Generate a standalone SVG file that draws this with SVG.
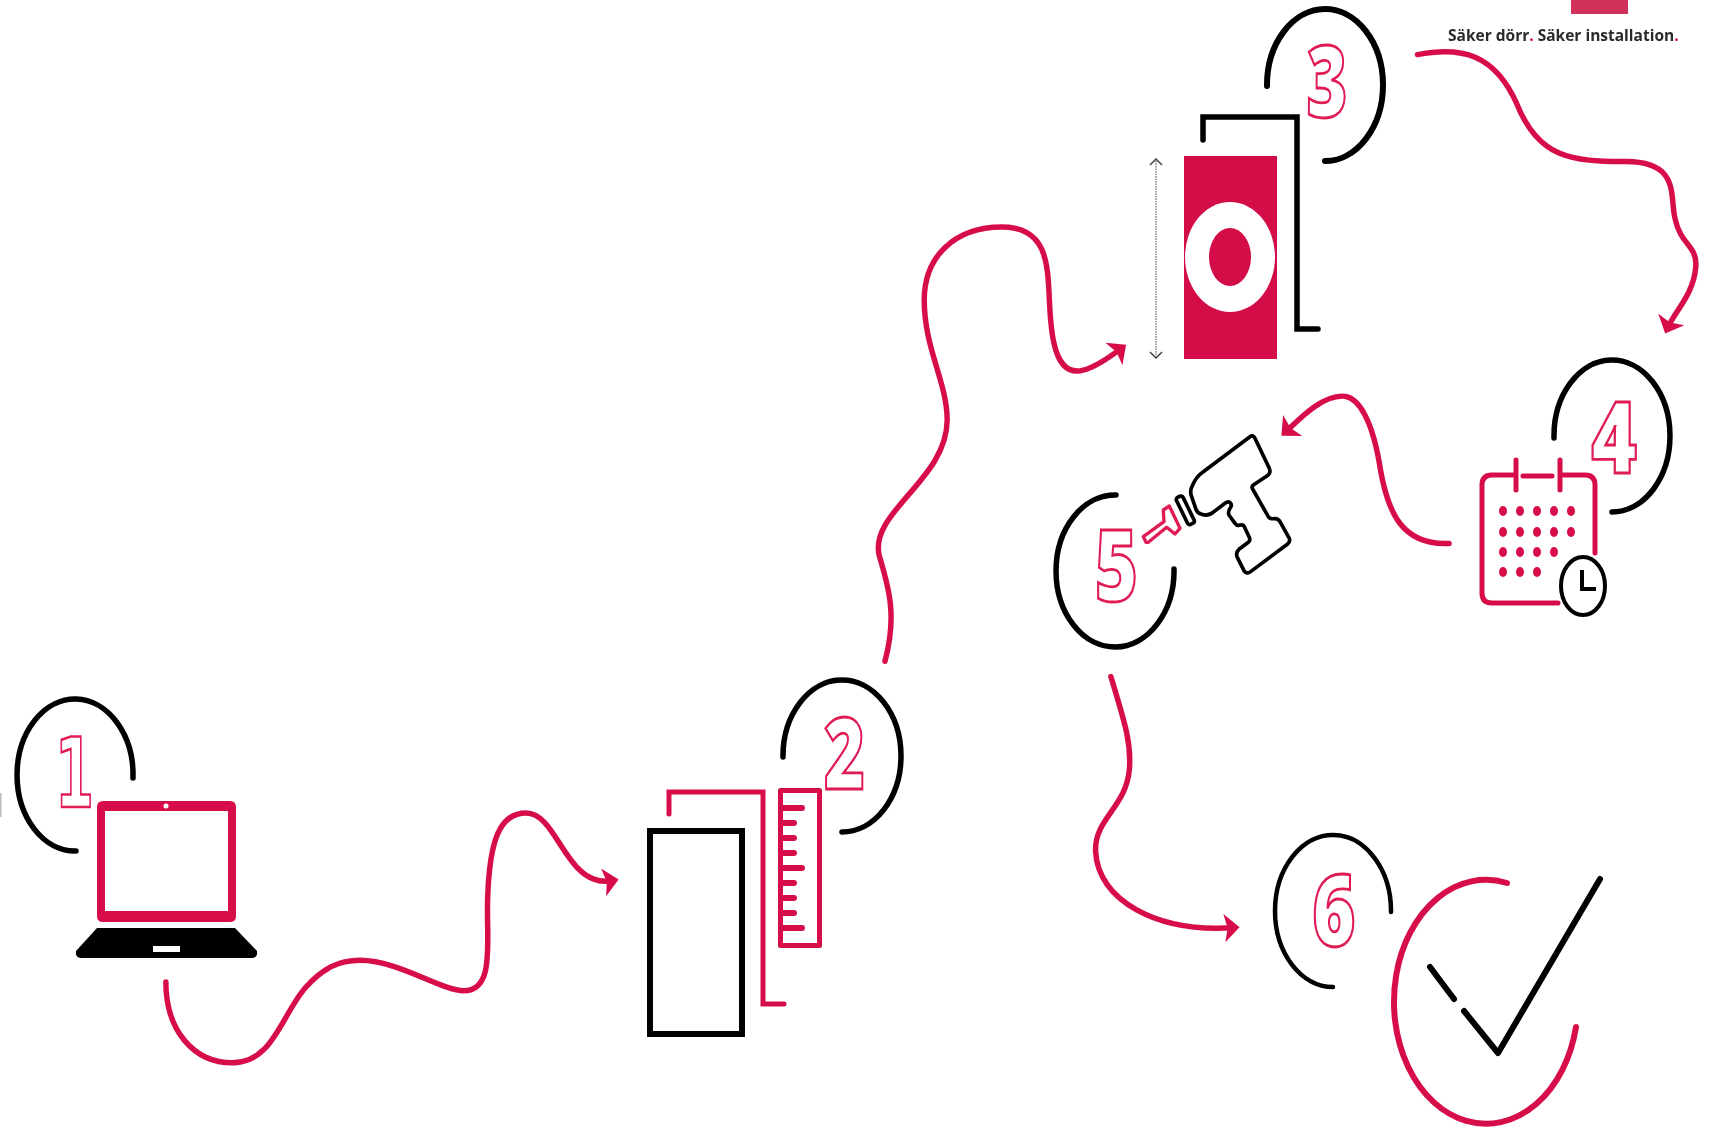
<svg xmlns="http://www.w3.org/2000/svg" width="1711" height="1130" viewBox="0 0 1711 1130">
<style>
.k{fill:none;stroke:#000;stroke-width:5.500;stroke-linecap:round}
.c{fill:none;stroke:#d70e4a;stroke-width:5;stroke-linecap:round}
.n{fill:#fff;stroke:#e01a55;stroke-width:2.800;font-family:"Open Sans",sans-serif;font-weight:800;font-size:100px;text-anchor:middle}
.f{fill:#d70e4a}
</style>
<defs>
<marker id="ah" markerUnits="userSpaceOnUse" markerWidth="24" markerHeight="28" refX="17" refY="14" orient="auto" viewBox="0 0 24 28">
<path d="M22 14L8 1L11 14L8 27Z" fill="#d70e4a"/>
</marker>
<filter id="soft" x="0" y="0" width="100%" height="100%" filterUnits="userSpaceOnUse"><feGaussianBlur stdDeviation="0.600"/></filter>
</defs>
<rect width="1711" height="1130" fill="#fff"/>
<g filter="url(#soft)">
<rect x="0" y="793" width="1.5" height="24" fill="#bbb"/>
<g id="connectors" transform="scale(1.0912)">
<g fill="none" stroke="#d70e4a" stroke-width="5" stroke-linecap="round">
<path marker-end="url(#ah)" d="M152 900C152 945 178 974 213 974C250 974 258 930 280 905C295 888 310 880 330 880C365 880 405 908 425 908C455 908 445 860 447 820C449 770 458 745 482 745C512 745 518 815 562 807"/>
<path marker-end="url(#ah)" d="M811 606C822 565 815 540 806 510C795 470 868 440 868 385C868 350 847 320 847 275C847 235 875 208 918 208C975 208 955 270 966 315C975 355 1000 340 1028 319"/>
<path marker-end="url(#ah)" d="M1299 50C1340 42 1370 50 1390 95C1410 145 1440 148 1490 148C1540 148 1530 180 1535 200C1540 225 1556 225 1554 245C1552 270 1535 285 1528 301"/>
<path marker-end="url(#ah)" d="M1328 498C1285 500 1272 470 1265 430C1258 385 1245 363 1230 363C1210 363 1190 385 1178 396"/>
<path marker-end="url(#ah)" d="M1018 620C1030 660 1037 680 1035 705C1032 740 1003 750 1004 780C1006 825 1060 855 1131 850"/>
</g>
</g>
<g id="node-1">
<path class="k" d="M133 778A58 76 0 1 0 76 851"/>
<text class="n" style="font-family:'DejaVu Sans',sans-serif;font-weight:700" transform="translate(74.500 807) scale(.56 .97)">1</text>
<path class="f" fill-rule="evenodd" d="M103 801H230Q236 801 236 807V916Q236 922 230 922H103Q97 922 97 916V807Q97 801 103 801ZM105 811V911H228V811Z"/>
<circle cx="166" cy="806" r="2.500" fill="#fff"/>
<path d="M97 928H235L257 951Q258 958 252 958H81Q75 958 76 951Z"/>
<rect x="153" y="946" width="27" height="6" fill="#fff"/>
</g>
<g id="node-2">
<path class="k" d="M783 757A59 76 0 1 1 842 832"/>
<text class="n" transform="translate(844.500 789) scale(.7 1)">2</text>
<path class="c" d="M669 814V792H763V1004H784" stroke-linecap="butt"/>
<rect x="650" y="831" width="92" height="203" fill="none" stroke="#000" stroke-width="6"/>
<rect x="780.500" y="790.500" width="39" height="155" fill="none" stroke="#d70e4a" stroke-width="5" stroke-linejoin="round"/>
<path class="c" style="stroke-width:6" d="M782 808H802M782 823H794M782 838H794M782 853H794M782 868H802M782 883H794M782 898H794M782 913H794M782 928H802"/>
</g>
<g id="node-3">
<path class="k" style="stroke-width:6" d="M1267 86A58 76 0 1 1 1325 161"/>
<text class="n" transform="translate(1327 117) scale(.7 1)">3</text>
<path class="k" d="M1203 140V117H1297V329H1318" stroke-linejoin="miter"/>
<rect x="1184" y="156" width="93" height="203" fill="#d30c47"/>
<ellipse cx="1230" cy="257" rx="45" ry="55" fill="#fff"/>
<ellipse cx="1230" cy="257" rx="21" ry="29" fill="#d30c47"/>
<path d="M1156 161V357" fill="none" stroke="#666" stroke-width="1.200" stroke-dasharray="1.500 1"/>
<path d="M1150 165L1156 159L1162 165M1150 352L1156 358L1162 352" fill="none" stroke="#444" stroke-width="1.500"/>
</g>
<g id="node-4">
<path class="k" d="M1554 438A58 76 0 1 1 1612 512"/>
<text class="n" transform="translate(1614 473) scale(.78 1)">4</text>
<path class="c" d="M1513 475H1492Q1482 475 1482 485V593Q1482 603 1492 603H1558M1523 476H1552M1516 460V490M1560 460V490M1562 475H1585Q1595 475 1595 485V553" stroke-linecap="butt" stroke-width="4.500"/>
<g class="f">
<ellipse cx="1503" cy="511" rx="4" ry="5"/><ellipse cx="1520" cy="511" rx="4" ry="5"/><ellipse cx="1537" cy="511" rx="4" ry="5"/><ellipse cx="1554" cy="511" rx="4" ry="5"/><ellipse cx="1571" cy="511" rx="4" ry="5"/>
<ellipse cx="1503" cy="532" rx="4" ry="5"/><ellipse cx="1520" cy="532" rx="4" ry="5"/><ellipse cx="1537" cy="532" rx="4" ry="5"/><ellipse cx="1554" cy="532" rx="4" ry="5"/><ellipse cx="1571" cy="532" rx="4" ry="5"/>
<ellipse cx="1503" cy="552" rx="4" ry="5"/><ellipse cx="1520" cy="552" rx="4" ry="5"/><ellipse cx="1537" cy="552" rx="4" ry="5"/><ellipse cx="1554" cy="552" rx="4" ry="5"/>
<ellipse cx="1503" cy="572" rx="4" ry="5"/><ellipse cx="1520" cy="572" rx="4" ry="5"/><ellipse cx="1537" cy="572" rx="4" ry="5"/>
</g>
<ellipse cx="1583" cy="586" rx="22" ry="29" fill="none" stroke="#000" stroke-width="4"/>
<path d="M1582 570V589H1596" fill="none" stroke="#000" stroke-width="4"/>
</g>
<g id="node-5">
<path class="k" d="M1116 495A59 76 0 1 0 1174 569"/>
<text class="n" transform="translate(1116.500 601) scale(.74 1)">5</text>
<g transform="translate(1040 420) scale(.3333)" fill="none" stroke-linejoin="round">
<path stroke="#000" stroke-width="11" d="M630 50Q640 44 645 55L688 145Q693 158 685 165L640 195Q634 200 638 207L685 290Q690 298 705 296Q715 296 720 305L748 355Q752 365 742 373L632 455Q620 464 612 452L592 412Q586 398 597 388L625 367Q632 362 628 352L612 318Q608 312 598 316Q590 318 585 310L567 285Q563 277 570 265Q578 255 570 248Q565 243 555 250L522 275Q505 290 485 283Q472 280 468 268L455 230Q448 212 458 195Q468 170 490 155Z"/>
<rect x="425" y="226" width="22" height="90" rx="7" transform="rotate(-26 436 271)" stroke="#000" stroke-width="11"/>
<path stroke="#e01a55" stroke-width="10" d="M318 367L310 350L372 305L370 270L388 258L420 325L405 342L380 322L325 367Z"/>
</g>
</g>
<g id="node-6">
<path class="k" style="stroke-width:4.500" d="M1391 912A58 76 0 1 0 1333 987"/>
<text class="n" transform="translate(1334 946) scale(.74 1)">6</text>
<path d="M1507 883A92 122 0 1 0 1576 1027" fill="none" stroke="#d70e4a" stroke-width="6" stroke-linecap="round"/>
<path d="M1430 967L1454 999M1464 1011L1498 1053L1600 879" fill="none" stroke="#000" stroke-width="6" stroke-linecap="round" stroke-linejoin="round"/>
</g>
<g id="logo">
<rect x="1571" y="0" width="57" height="14" fill="#d0315a"/>
<text x="1448" y="41" font-family="'Open Sans',sans-serif" font-weight="700" font-size="15.500" fill="#2a2a2a">Säker dörr<tspan fill="#d70e4a">.</tspan> Säker installation<tspan fill="#d70e4a">.</tspan></text>
</g>
</g>
</svg>
